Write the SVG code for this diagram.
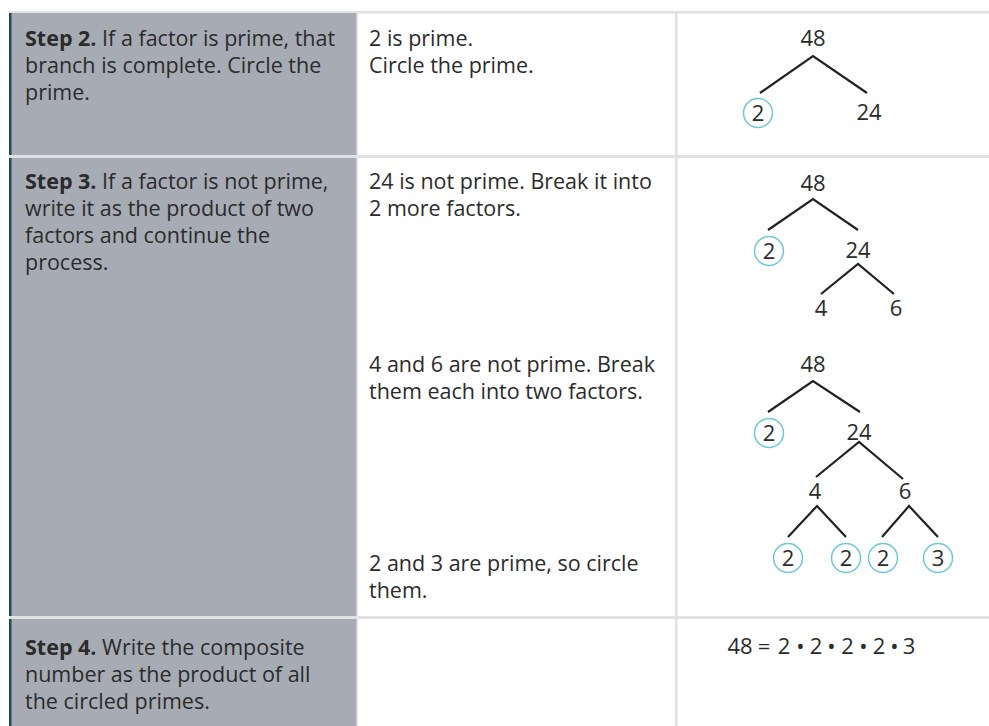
<svg xmlns="http://www.w3.org/2000/svg" width="989" height="726" viewBox="0 0 989 726">
<style>
.t{font-family:"Open Sans","Noto Sans","Liberation Sans",sans-serif;font-size:21.5px;fill:#2b2b2b}
.b{font-weight:bold}
.n{font-family:"Open Sans","Noto Sans","Liberation Sans",sans-serif;font-size:22px;fill:#2b2b2b;text-anchor:middle}
.c{fill:none;stroke:#6cc6dc;stroke-width:1.5}
.l{stroke:#222;stroke-width:2.2;fill:none;stroke-linecap:butt}
.sep{fill:#e1e1e4}
</style>
<rect width="989" height="726" fill="#fff"/>
<g id="table">
<rect x="9" y="11" width="980" height="2.5" class="sep"/>
<rect x="11" y="13" width="346" height="713" fill="#a7acb4"/>
<rect x="9" y="13" width="2.5" height="713" fill="#1e4a5b"/>
<rect x="9" y="155" width="980" height="3" class="sep"/>
<rect x="9" y="616" width="980" height="3" class="sep"/>
<rect x="356.5" y="13" width="2" height="713" fill="#e8e8ea"/>
<rect x="675" y="13" width="2.5" height="713" class="sep"/>
</g>
<g id="step2">
<text class="t" x="25" y="46"><tspan class="b">Step 2.</tspan> If a factor is prime, that</text>
<text class="t" x="25" y="73">branch is complete. Circle the</text>
<text class="t" x="25" y="100">prime.</text>
</g>
<g id="step2-note">
<text class="t" x="369" y="46">2 is prime.</text>
<text class="t" x="369" y="73">Circle the prime.</text>
</g>
<g id="step3">
<text class="t" x="25" y="189"><tspan class="b">Step 3.</tspan> If a factor is not prime,</text>
<text class="t" x="25" y="216">write it as the product of two</text>
<text class="t" x="25" y="243">factors and continue the</text>
<text class="t" x="25" y="270">process.</text>
</g>
<g id="step3-notes">
<text class="t" x="369" y="189">24 is not prime. Break it into</text>
<text class="t" x="369" y="216">2 more factors.</text>
<text class="t" x="369" y="372">4 and 6 are not prime. Break</text>
<text class="t" x="369" y="399">them each into two factors.</text>
<text class="t" x="369" y="571">2 and 3 are prime, so circle</text>
<text class="t" x="369" y="598">them.</text>
</g>
<g id="step4">
<text class="t" x="25" y="655"><tspan class="b">Step 4.</tspan> Write the composite</text>
<text class="t" x="25" y="682">number as the product of all</text>
<text class="t" x="25" y="709">the circled primes.</text>
</g>
<g id="connectors">
<path class="l" d="M760,93 L813,56 L867,93"/>
<path class="l" d="M768,230 L813,199 L858,230"/>
<path class="l" d="M821,294 L858,264 L894,294"/>
<path class="l" d="M768,412 L813,381 L860,412"/>
<path class="l" d="M816,477 L859,442 L903,479"/>
<path class="l" d="M788,537 L817,506 L846,537"/>
<path class="l" d="M882,537 L909,506 L938,537"/>
</g>
<g id="tree1">
<g id="t1-48"><text class="n" x="813" y="46">48</text></g>
<g id="t1-2"><circle class="c" cx="758" cy="113" r="14.5"/><text class="n" x="758" y="121">2</text></g>
<g id="t1-24"><text class="n" x="869" y="120">24</text></g>
</g>
<g id="tree2">
<g id="t2-48"><text class="n" x="813" y="191">48</text></g>
<g id="t2-2"><circle class="c" cx="769" cy="251" r="14.5"/><text class="n" x="769" y="259">2</text></g>
<g id="t2-24"><text class="n" x="858" y="258">24</text></g>
<g id="t2-4"><text class="n" x="821" y="316">4</text></g>
<g id="t2-6"><text class="n" x="896" y="316">6</text></g>
</g>
<g id="tree3">
<g id="t3-48"><text class="n" x="813" y="372">48</text></g>
<g id="t3-2"><circle class="c" cx="769" cy="433" r="14.5"/><text class="n" x="769" y="441">2</text></g>
<g id="t3-24"><text class="n" x="859" y="440">24</text></g>
<g id="t3-4"><text class="n" x="815" y="499">4</text></g>
<g id="t3-6"><text class="n" x="905" y="499">6</text></g>
<g id="t3-2a"><circle class="c" cx="788" cy="558" r="14.5"/><text class="n" x="788" y="566">2</text></g>
<g id="t3-2b"><circle class="c" cx="846" cy="558" r="14.5"/><text class="n" x="846" y="566">2</text></g>
<g id="t3-2c"><circle class="c" cx="883" cy="558" r="14.5"/><text class="n" x="883" y="566">2</text></g>
<g id="t3-3"><circle class="c" cx="938" cy="558" r="14.5"/><text class="n" x="938" y="566">3</text></g>
</g>
<g id="equation">
<text class="n" x="740" y="654">48</text>
<text class="n" x="764" y="654">=</text>
<text class="n" x="784" y="654">2</text>
<text class="n" x="800.5" y="654">•</text>
<text class="n" x="816" y="654">2</text>
<text class="n" x="831.5" y="654">•</text>
<text class="n" x="847.5" y="654">2</text>
<text class="n" x="863.5" y="654">•</text>
<text class="n" x="879" y="654">2</text>
<text class="n" x="894.5" y="654">•</text>
<text class="n" x="909" y="654">3</text>
</g>
</svg>
